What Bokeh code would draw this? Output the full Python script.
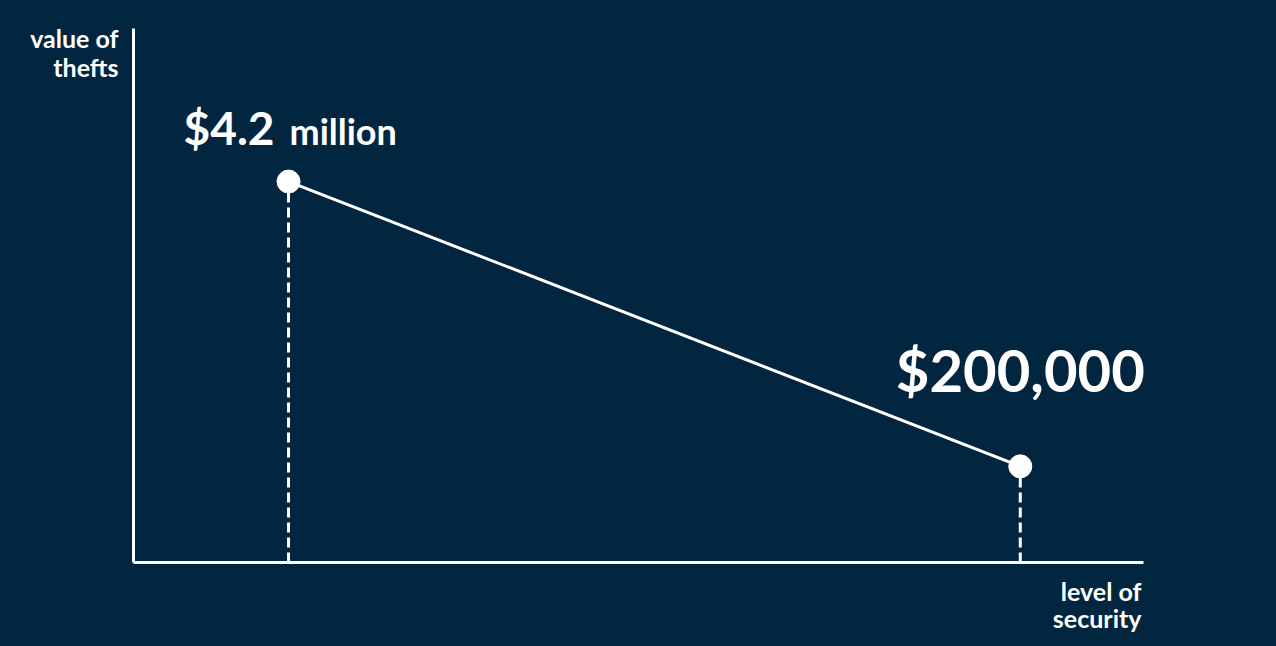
from bokeh.plotting import figure
from bokeh.models import Range1d
from bokeh.core.properties import value
from bokeh.embed import file_html
from bokeh.resources import INLINE

# ---- data (schematic chart) ----
security_level = [1.535, 8.78]          # position along "level of security"
drawn_height = [4.2, 1.06]              # schematic height of each point
value_main = ["$4.2", "$200,000"]       # big bold part of the label
value_unit = ["million", ""]            # smaller suffix
x_axis_end = [10.0]
y_axis_end = [5.887]
x_axis_title = ["level of", "security"]
y_axis_title = ["value of", "thefts"]

BG = "#022640"
FG = "#ffffff"
FONT = value("Lato")
SHIFT = 0.4  # baseline compensation (fraction of font size)

p = figure(width=1276, height=646, output_backend="svg", toolbar_location=None,
           x_range=Range1d(-133 / 101, 1143 / 101), y_range=Range1d(-84 / 90.7, 562 / 90.7),
           min_border=0, background_fill_color=BG, border_fill_color=BG,
           outline_line_color=None)
p.axis.visible = False
p.grid.visible = False

# axes
p.segment(x0=[0, 0], y0=[0, 0], x1=[x_axis_end[0], 0], y1=[0, y_axis_end[0]],
          line_color=FG, line_width=3)

# dashed drop lines
p.segment(x0=security_level, y0=[0, 0], x1=security_level, y1=drawn_height,
          line_color=FG, line_width=3, line_dash="10 5")

# main line
p.line(security_level, drawn_height, line_color=FG, line_width=3)
p.scatter(security_level, drawn_height, size=23, fill_color=FG, line_color=FG)


def label(x, y, t, size, dx, dy, align):
    p.text(x=x, y=y, text=[t], x_offset=dx, y_offset=dy - SHIFT * size,
           text_align=align, text_baseline="alphabetic",
           text_font=FONT, text_font_style="bold", text_font_size="%dpx" % size,
           text_color=FG)


# value labels
label([security_level[0]], [drawn_height[0]], value_main[0], 46, -14, -36, "right")
label([security_level[0]], [drawn_height[0]], value_unit[0], 36, 1, -36, "left")
label([security_level[1]], [drawn_height[1]], value_main[1], 58, 0, -74, "center")

# axis titles
for i, t in enumerate(y_axis_title):
    label([0], y_axis_end, t, 25, -15, 19 + 29 * i, "right")
for i, t in enumerate(x_axis_title):
    label(x_axis_end, [0], t, 25, -2, 38 + 27 * i, "right")

html = file_html(p, INLINE)
html = html.replace("</head>", "<style>html, body { background-color: %s; }</style></head>" % BG, 1)
open("out.html", "w").write(html)
